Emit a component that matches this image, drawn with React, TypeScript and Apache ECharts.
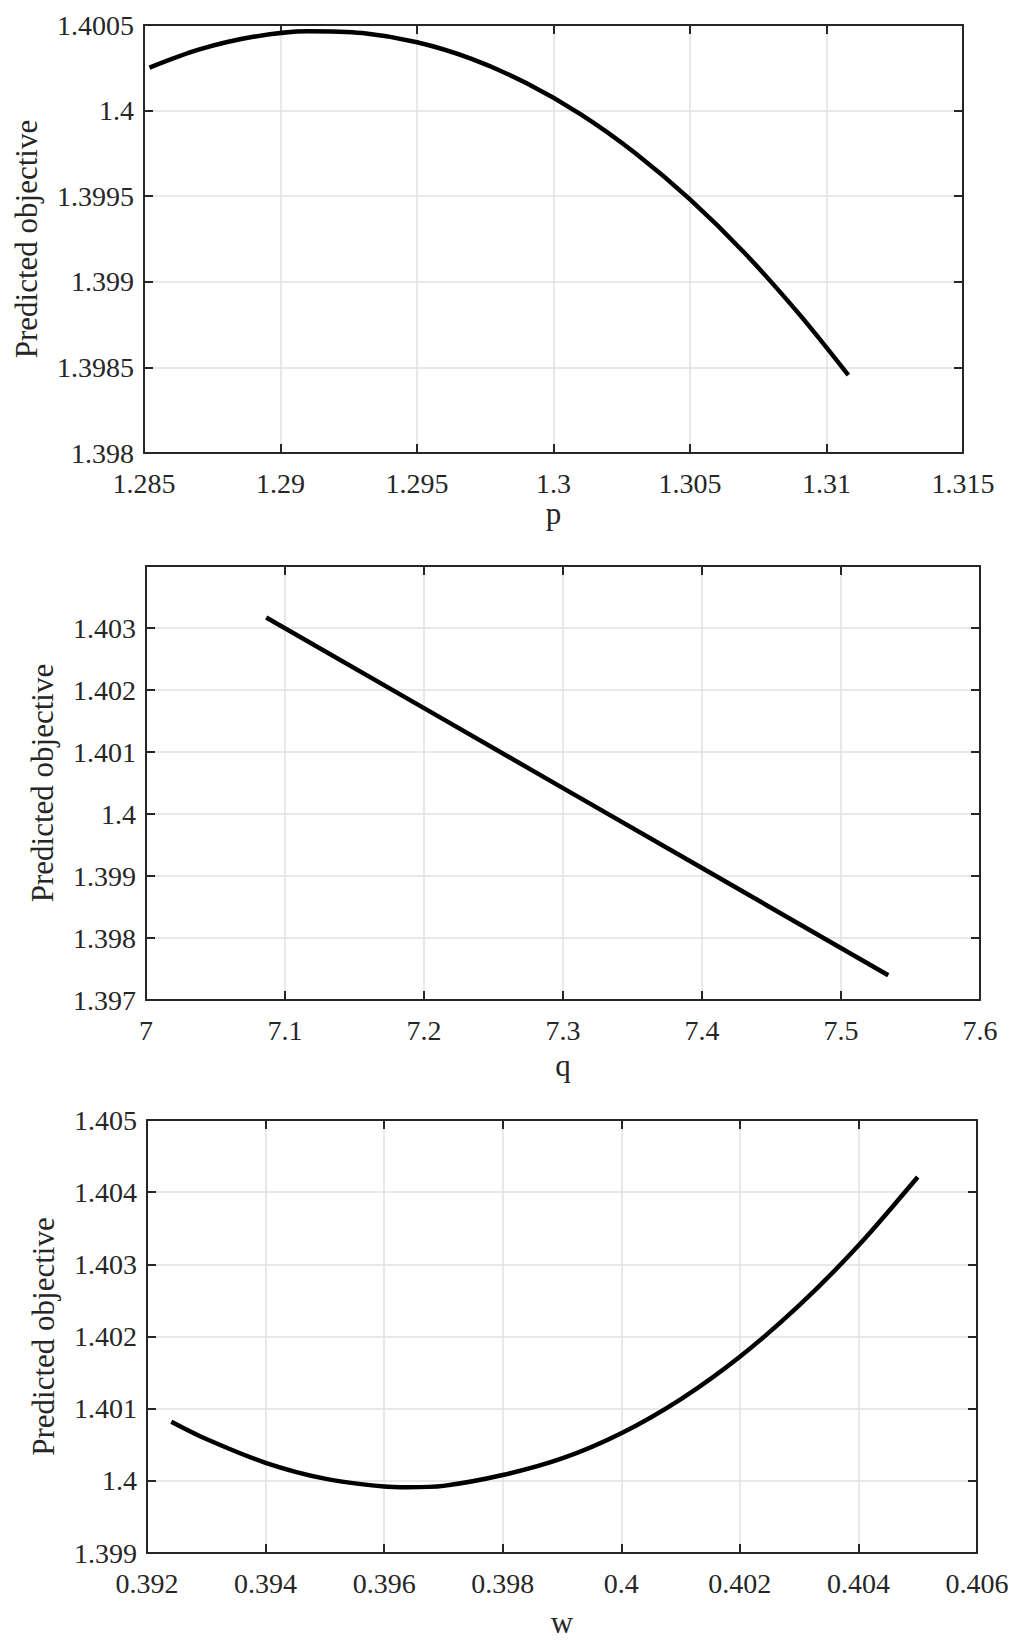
import React, { useEffect, useRef } from "react";
import * as echarts from "echarts";

// ---- data ----
const pX = [1.2852, 1.287, 1.289, 1.291, 1.293, 1.295, 1.297, 1.299, 1.301, 1.303, 1.305, 1.307, 1.309, 1.3108];
const pY = [1.400251, 1.400356, 1.400431, 1.400464, 1.400453, 1.400399, 1.400302, 1.400161, 1.399978, 1.399751, 1.399481, 1.399168, 1.398811, 1.398455];

const qX = [7.0865, 7.2, 7.3, 7.4, 7.534];
const qY = [1.40317, 1.401707, 1.400418, 1.399129, 1.3974];

const wX = [0.39241, 0.393, 0.394, 0.395, 0.396, 0.3964, 0.397, 0.398, 0.399, 0.4, 0.401, 0.402, 0.403, 0.404, 0.405];
const wY = [1.40082, 1.40058, 1.40025, 1.40003, 1.39992, 1.39991, 1.39993, 1.40008, 1.40031, 1.40066, 1.40113, 1.40172, 1.40243, 1.40326, 1.40421];

const pTicks = [1.285, 1.29, 1.295, 1.3, 1.305, 1.31, 1.315];
const y1Ticks = [1.398, 1.3985, 1.399, 1.3995, 1.4, 1.4005];
const qTicks = [7, 7.1, 7.2, 7.3, 7.4, 7.5, 7.6];
const y2Ticks = [1.397, 1.398, 1.399, 1.4, 1.401, 1.402, 1.403];
const y2Max = 1.404;
const wTicks = [0.392, 0.394, 0.396, 0.398, 0.4, 0.402, 0.404, 0.406];
const y3Ticks = [1.399, 1.4, 1.401, 1.402, 1.403, 1.404, 1.405];

const xNames = ["p", "q", "w"];
const yName = "Predicted objective";

const FONT = "Liberation Serif";
const AX = "#262626";

const fmtNum = (v: number) => String(parseFloat(v.toFixed(6)));

export default function App() {
  const ref = useRef<HTMLDivElement>(null);

  useEffect(() => {
    document.body.style.margin = "0";
    if (!ref.current) return;
    const chart = echarts.init(ref.current, undefined, { renderer: "svg" });

    const grids = [
      { left: 144, top: 25, width: 819, height: 428 },
      { left: 146, top: 566, width: 834, height: 434 },
      { left: 147, top: 1120, width: 830, height: 433 },
    ];
    const xT = [pTicks, qTicks, wTicks];
    const yT = [y1Ticks, y2Ticks, y3Ticks];
    const yMaxes = [y1Ticks[y1Ticks.length - 1], y2Max, y3Ticks[y3Ticks.length - 1]];
    const yNameGaps = [102, 88, 88];
    const xNameGaps = [44, 50, 54];
    const seriesX = [pX, qX, wX];
    const seriesY = [pY, qY, wY];

    const xAxes: any[] = [];
    const yAxes: any[] = [];
    const series: any[] = [];

    for (let i = 0; i < 3; i++) {
      const xt = xT[i];
      const yt = yT[i];
      const xMin = xt[0];
      const xMax = xt[xt.length - 1];
      const xInt = xt[1] - xt[0];
      const yMin = yt[0];
      const yMax = yMaxes[i];
      const yInt = yt[1] - yt[0];
      const yLast = yt[yt.length - 1];

      const common = {
        gridIndex: i,
        type: "value",
        axisLine: { show: true, onZero: false, lineStyle: { color: AX, width: 2 } },
        axisTick: { show: true, inside: true, length: 9, lineStyle: { color: AX, width: 2 } },
      };

      xAxes.push({
        ...common,
        position: "bottom",
        min: xMin,
        max: xMax,
        interval: xInt,
        name: xNames[i],
        nameLocation: "middle",
        nameGap: xNameGaps[i],
        nameTextStyle: { fontFamily: FONT, fontSize: 31, color: AX },
        axisLabel: {
          show: true,
          margin: 16,
          fontFamily: FONT,
          fontSize: 28,
          color: AX,
          showMinLabel: true,
          showMaxLabel: true,
          hideOverlap: false,
          formatter: (v: number) => fmtNum(v),
        },
        splitLine: { show: true, lineStyle: { color: "#e0e0e0", width: 1.5 } },
      });
      xAxes.push({
        ...common,
        position: "top",
        min: xMin,
        max: xMax,
        interval: xInt,
        axisLabel: { show: false },
        splitLine: { show: false },
      });

      yAxes.push({
        ...common,
        position: "left",
        min: yMin,
        max: yMax,
        interval: yInt,
        name: yName,
        nameLocation: "middle",
        nameGap: yNameGaps[i],
        nameRotate: 90,
        nameTextStyle: { fontFamily: FONT, fontSize: 31, color: AX },
        axisLabel: {
          show: true,
          margin: 10,
          fontFamily: FONT,
          fontSize: 28,
          color: AX,
          showMinLabel: true,
          showMaxLabel: true,
          hideOverlap: false,
          formatter: (v: number) => (v > yLast + 1e-9 ? "" : fmtNum(v)),
        },
        splitLine: { show: true, lineStyle: { color: "#e0e0e0", width: 1.5 } },
      });
      yAxes.push({
        ...common,
        position: "right",
        min: yMin,
        max: yMax,
        interval: yInt,
        axisLabel: { show: false },
        splitLine: { show: false },
      });

      series.push({
        type: "line",
        xAxisIndex: i * 2,
        yAxisIndex: i * 2,
        data: seriesX[i].map((x, k) => [x, seriesY[i][k]]),
        showSymbol: false,
        smooth: i === 1 ? false : 0.3,
        lineStyle: { color: "#000000", width: 4.5 },
        z: 5,
      });
    }

    chart.setOption({
      animation: false,
      backgroundColor: "#ffffff",
      textStyle: { fontFamily: FONT },
      grid: grids.map((g) => ({ ...g, containLabel: false })),
      xAxis: xAxes,
      yAxis: yAxes,
      series,
    });

    return () => chart.dispose();
  }, []);

  return <div ref={ref} style={{ width: 1023, height: 1641 }} />;
}
